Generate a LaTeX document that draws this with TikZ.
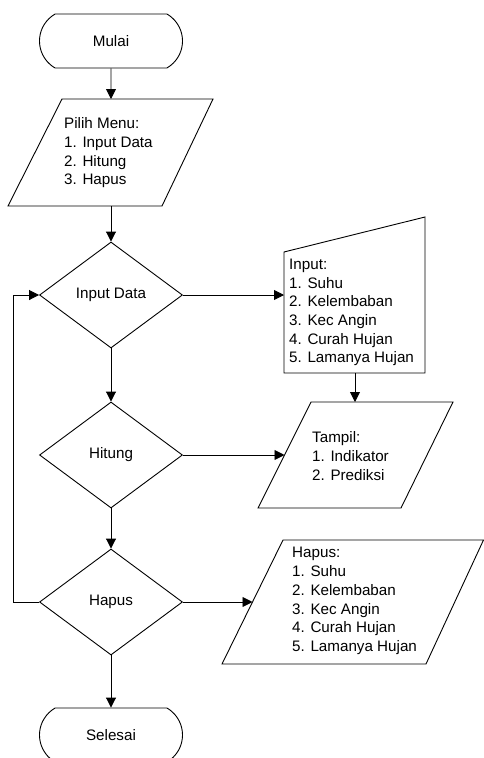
\documentclass[tikz,border=0pt]{standalone}
\usepackage{fontspec}
\setmainfont{Liberation Sans}
\usetikzlibrary{shapes.geometric,shapes.misc,arrows.meta}
\tikzset{
  ln/.style={draw=black, line width=0.9pt},
  arr/.style={ln, -{Triangle[length=10pt,width=10pt]}},
  term/.style={ln, rounded rectangle, rounded rectangle arc length=120, minimum width=143pt, minimum height=54pt, inner sep=0pt, font=\fontsize{15.2}{18.7}\selectfont},
  dec/.style={ln, diamond, minimum width=143pt, minimum height=106pt, inner sep=0pt, font=\fontsize{15.2}{18.7}\selectfont},
  txt/.style={inner sep=0pt, align=left, anchor=west, font=\fontsize{15.2}{18.7}\selectfont},
  io/.style={ln, line join=miter},
}
\begin{document}
\begin{tikzpicture}[x=1pt,y=-1pt]
\useasboundingbox (0,0) rectangle (484,758);
% terminals
\node[term] (mulai) at (111,41) {Mulai};
\node[term] (selesai) at (111,735) {Selesai};
% Pilih Menu parallelogram
\draw[io] (62,99) coordinate (pm-nw) -- (213,99) coordinate (pm-ne) -- (162,206) coordinate (pm-se) -- (8,206) coordinate (pm-sw) -- cycle;
\coordinate (pm-n) at (111,99);
\coordinate (pm-s) at (111,206);
\node[txt] (pilih) at (64,153) {Pilih Menu:\\1. Input Data\\2. Hitung\\3. Hapus};
% decisions
\node[dec] (input) at (111,295) {Input Data};
\node[dec] (hitung) at (111,455) {Hitung};
\node[dec] (hapus) at (111,602) {Hapus};
% manual input
\draw[io] (284,252) coordinate (mi-nw) -- (425,217) coordinate (mi-ne) -- (425,373) coordinate (mi-se) -- (284,373) coordinate (mi-sw) -- cycle;
\coordinate (mi-w) at (284,295);
\coordinate (mi-s) at (355,373);
\node[txt] (inp) at (289,312.5) {Input:\\1. Suhu\\2. Kelembaban\\3. Kec Angin\\4. Curah Hujan\\5. Lamanya Hujan};
% Tampil parallelogram
\draw[io] (311,402) coordinate (tp-nw) -- (453,402) coordinate (tp-ne) -- (401,508) coordinate (tp-se) -- (258,508) coordinate (tp-sw) -- cycle;
\coordinate (tp-n) at (355,402);
\coordinate (tp-w) at (284.5,455);
\node[txt] (tampil) at (312,456) {Tampil:\\\hspace*{0pt}1. Indikator\\2. Prediksi};
% Hapus parallelogram
\draw[io] (283,540) coordinate (hp-nw) -- (483.5,540) coordinate (hp-ne) -- (426,664) coordinate (hp-se) -- (222,664) coordinate (hp-sw) -- cycle;
\coordinate (hp-w) at (252.5,602);
\node[txt] (hps) at (292,601) {Hapus:\\1. Suhu\\2. Kelembaban\\3. Kec Angin\\4. Curah Hujan\\5. Lamanya Hujan};
% connectors
\draw[arr] (mulai) -- (pm-n);
\draw[arr] (pm-s) -- (input.north);
\draw[arr] (input.south) -- (hitung.north);
\draw[arr] (hitung.south) -- (hapus.north);
\draw[arr] (hapus.south) -- (selesai.north);
\draw[arr] (input.east) -- (mi-w);
\draw[arr] (mi-s) -- (tp-n);
\draw[arr] (hitung.east) -- (tp-w);
\draw[arr] (hapus.east) -- (hp-w);
\draw[arr] (hapus.west) -- (13,602) -- (13,295) -- (input.west);
\end{tikzpicture}
\end{document}
